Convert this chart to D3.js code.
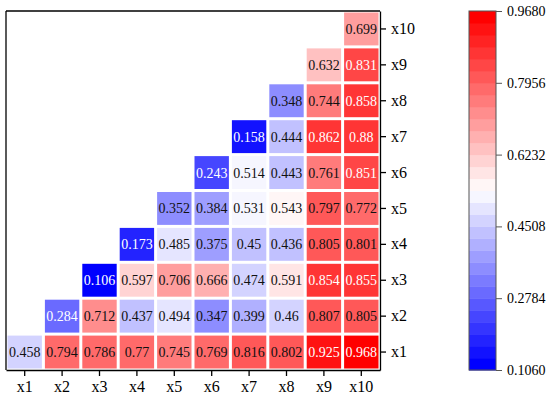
<!DOCTYPE html>
<html>
<head>
<meta charset="utf-8">
<script src="https://cdn.jsdelivr.net/npm/d3@7"></script>
<style>
  body { margin: 0; background: #fff; }
  svg text { font-family: "Liberation Serif", "Times New Roman", serif !important; }
</style>
</head>
<body>
<div id="chart"></div>
<script>
const labels = ["x1", "x2", "x3", "x4", "x5", "x6", "x7", "x8", "x9", "x10"];

// one array per row (x1 at bottom), values start at the diagonal column
const row_x1 = [0.458, 0.794, 0.786, 0.77, 0.745, 0.769, 0.816, 0.802, 0.925, 0.968];
const row_x2 = [0.284, 0.712, 0.437, 0.494, 0.347, 0.399, 0.46, 0.807, 0.805];
const row_x3 = [0.106, 0.597, 0.706, 0.666, 0.474, 0.591, 0.854, 0.855];
const row_x4 = [0.173, 0.485, 0.375, 0.45, 0.436, 0.805, 0.801];
const row_x5 = [0.352, 0.384, 0.531, 0.543, 0.797, 0.772];
const row_x6 = [0.243, 0.514, 0.443, 0.761, 0.851];
const row_x7 = [0.158, 0.444, 0.862, 0.88];
const row_x8 = [0.348, 0.744, 0.858];
const row_x9 = [0.632, 0.831];
const row_x10 = [0.699];

const rows = [row_x1, row_x2, row_x3, row_x4, row_x5, row_x6, row_x7, row_x8, row_x9, row_x10];
const colorTicks = [0.1060, 0.2784, 0.4508, 0.6232, 0.7956, 0.9680];

const vMin = 0.106, vMax = 0.968, nLevels = 30;

const cells = [];
rows.forEach((r, i) => {
  r.forEach((v, k) => {
    cells.push({ row: labels[i], col: labels[i + k], value: v });
  });
});

const W = 550, H = 397;
const svg = d3.select("#chart").append("svg")
  .attr("width", W).attr("height", H);

const xScale = d3.scaleBand().domain(labels).range([6, 380]).padding(0);
const yScale = d3.scaleBand().domain(labels).range([370, 11]).padding(0);

const grad = d3.scaleLinear()
  .domain([0, 0.5, 1])
  .range(["#0000ff", "#ffffff", "#ff0000"]);

function levelOf(v) {
  const t = (v - vMin) / (vMax - vMin);
  return Math.max(0, Math.min(nLevels - 1, Math.floor(t * nLevels)));
}
const colorOf = v => grad(levelOf(v) / (nLevels - 1));

// cells
const inset = 1.5;
svg.append("g").selectAll("rect")
  .data(cells)
  .enter()
  .append("rect")
  .attr("x", d => xScale(d.col) + inset)
  .attr("y", d => yScale(d.row) + inset)
  .attr("width", xScale.bandwidth() - 2 * inset)
  .attr("height", yScale.bandwidth() - 2 * inset)
  .attr("fill", d => colorOf(d.value));

svg.append("g").selectAll("text")
  .data(cells)
  .enter()
  .append("text")
  .attr("x", d => xScale(d.col) + xScale.bandwidth() / 2)
  .attr("y", d => yScale(d.row) + yScale.bandwidth() / 2 + 5)
  .attr("text-anchor", "middle")
  .style("font-size", "14px")
  .attr("fill", d => (d.value >= 0.82 || d.value <= 0.3) ? "#fff" : "#111")
  .text(d => String(d.value));

// axes
const xAxis = svg.append("g")
  .attr("transform", "translate(0,370)")
  .call(d3.axisBottom(xScale).tickSize(6).tickSizeOuter(0).tickPadding(5));
xAxis.select(".domain").attr("stroke", "#000").attr("stroke-width", 1.3);
xAxis.selectAll("line").attr("stroke-width", 1.3);
xAxis.selectAll("text").style("font-size", "16px").attr("fill", "#000");

const yAxis = svg.append("g")
  .attr("transform", "translate(380,0)")
  .call(d3.axisRight(yScale).tickSize(6).tickSizeOuter(0).tickPadding(5));
yAxis.select(".domain").attr("stroke", "#000").attr("stroke-width", 1.3);
yAxis.selectAll("line").attr("stroke-width", 1.3);
yAxis.selectAll("text").style("font-size", "16px").attr("fill", "#000");

// left and top frame lines
svg.append("line").attr("x1", 6).attr("x2", 6).attr("y1", 11).attr("y2", 370)
  .attr("stroke", "#000").attr("stroke-width", 1.3);
svg.append("line").attr("x1", 6).attr("x2", 380).attr("y1", 11).attr("y2", 11)
  .attr("stroke", "#000").attr("stroke-width", 1.3);

// colorbar
const cbX = 469, cbW = 27;
const cbScale = d3.scaleLinear().domain([vMin, vMax]).range([370, 11]);
const levels = d3.range(nLevels);
const step = (vMax - vMin) / nLevels;
svg.append("g").selectAll("rect")
  .data(levels)
  .enter()
  .append("rect")
  .attr("x", cbX)
  .attr("y", k => cbScale(vMin + (k + 1) * step))
  .attr("width", cbW)
  .attr("height", k => cbScale(vMin + k * step) - cbScale(vMin + (k + 1) * step) + 0.5)
  .attr("fill", k => grad(k / (nLevels - 1)));

svg.append("rect")
  .attr("x", cbX).attr("y", 11).attr("width", cbW).attr("height", 359)
  .attr("fill", "none").attr("stroke", "#555").attr("stroke-width", 1);

const cbAxis = svg.append("g")
  .attr("transform", `translate(${cbX + cbW},0)`)
  .call(d3.axisRight(cbScale).tickValues(colorTicks).tickFormat(d3.format(".4f"))
    .tickSize(6).tickSizeOuter(0).tickPadding(5));
cbAxis.select(".domain").remove();
cbAxis.selectAll("line").attr("stroke", "#555");
cbAxis.selectAll("text").style("font-size", "14px").attr("fill", "#000");
</script>
</body>
</html>
